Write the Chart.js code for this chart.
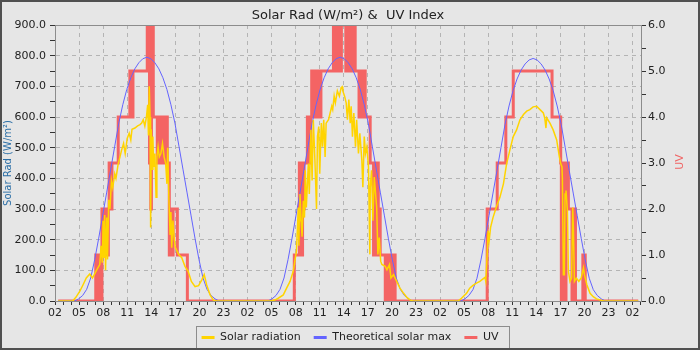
<!DOCTYPE html>
<html>
<head>
<meta charset="utf-8">
<title>Solar Rad &amp; UV Index</title>
<script src="https://cdn.jsdelivr.net/npm/chart.js@4.4.1/dist/chart.umd.min.js"></script>
<style>
  html, body { margin: 0; padding: 0; background: #e6e6e6; }
  #wrap { width: 700px; height: 350px; }
</style>
</head>
<body>
<div id="wrap"><canvas id="chart" width="700" height="350"></canvas></div>
<script>
// Hours are counted from 02:00 on the first day shown.
const firstHour = 2;
const lastHour = 73.05;
const chartTitle = 'Solar Rad (W/m\u00b2) &  UV Index';
const seriesNames = ['Solar radiation', 'Theoretical solar max', 'UV'];
const leftTitle = 'Solar Rad (W/m\u00b2)';
const rightTitle = 'UV';

// Solar radiation (W/m²), [hour, value]
const solarDay1 = [
  [0.4, 0], [2.2, 0], [2.6, 12], [3.08, 31], [3.5, 53], [3.9, 75], [4.33, 88], [4.67, 75], [5.17, 100], [5.58, 119],
  [5.75, 180], [5.9, 125], [6.0, 262], [6.1, 140], [6.2, 280], [6.3, 100], [6.45, 272], [6.55, 135], [6.7, 330], [6.85, 300],
  [7.04, 393], [7.2, 370], [7.45, 415], [7.6, 400], [7.88, 448], [8.1, 470], [8.3, 492], [8.55, 514], [8.75, 481], [9.0, 530],
  [9.25, 547], [9.45, 525], [9.6, 560], [9.96, 564], [10.3, 571], [10.6, 575], [10.8, 580], [11.0, 591], [11.2, 570], [11.4, 600],
  [11.55, 640], [11.65, 540], [11.75, 700], [11.85, 600], [11.92, 240], [12.0, 560], [12.1, 430], [12.2, 536], [12.3, 437],
  [12.45, 481], [12.6, 338], [12.7, 470], [12.85, 503], [13.0, 470], [13.2, 481], [13.4, 514], [13.6, 470], [13.8, 448],
  [13.95, 382], [14.05, 500], [14.2, 330], [14.35, 218], [14.45, 290], [14.55, 174], [14.7, 262], [14.85, 207], [15.0, 175],
  [15.4, 152], [15.8, 141], [16.2, 113], [16.6, 97], [17.0, 64], [17.46, 47], [17.9, 50], [18.3, 69], [18.6, 86], [18.9, 53],
  [19.33, 20], [19.75, 3], [20.0, 0]
];
const solarDay2 = [
  [26.8, 0], [27.4, 3], [27.83, 9], [28.46, 20], [28.87, 42], [29.3, 64], [29.7, 97], [29.9, 130], [30.1, 163],
  [30.33, 305], [30.4, 180], [30.45, 262], [30.54, 349], [30.7, 250], [30.8, 210], [30.96, 327], [31.1, 272], [31.2, 426],
  [31.33, 305], [31.58, 448], [31.7, 349], [31.9, 558], [32.05, 393], [32.2, 591], [32.4, 459], [32.6, 300], [32.72, 536],
  [32.88, 569], [33.0, 415], [33.2, 580], [33.35, 503], [33.5, 591], [33.67, 470], [33.8, 580], [34.1, 591], [34.3, 613],
  [34.5, 635], [34.62, 624], [34.8, 668], [34.95, 646], [35.2, 685], [35.45, 668], [35.67, 696], [35.8, 699], [35.88, 685],
  [36.1, 668], [36.3, 646], [36.45, 591], [36.63, 657], [36.8, 580], [36.92, 635], [37.08, 536], [37.25, 613], [37.46, 503],
  [37.6, 591], [37.83, 481], [38.0, 547], [38.25, 459], [38.38, 371], [38.55, 536], [38.7, 481], [38.875, 503], [39.08, 437],
  [39.25, 152], [39.3, 371], [39.46, 426], [39.63, 262], [39.8, 404], [40.1, 305], [40.25, 152], [40.42, 207], [40.6, 130],
  [40.75, 119], [41.17, 113], [41.38, 102], [41.7, 119], [41.88, 75], [42.2, 86], [42.6, 64], [43.0, 42], [43.46, 25],
  [43.9, 11], [44.3, 3], [44.6, 0]
];
const solarDay3 = [
  [50.25, 0], [50.67, 9], [51.3, 25], [51.7, 42], [52.1, 51], [52.54, 58], [52.96, 64], [53.4, 73], [53.6, 77], [53.7, 64],
  [53.875, 152], [54.0, 229], [54.12, 196], [54.3, 240], [54.6, 272], [55.0, 305], [55.46, 338], [55.9, 382], [56.3, 448],
  [56.7, 492], [57.125, 536], [57.54, 558], [57.96, 591], [58.4, 608], [58.8, 619], [59.2, 624], [59.6, 633], [60.04, 635],
  [60.46, 624], [60.875, 613], [61.05, 597], [61.2, 564], [61.3, 597], [61.7, 580], [62.1, 558], [62.54, 525], [62.875, 470],
  [63.04, 448], [63.2, 437], [63.25, 400], [63.375, 86], [63.5, 86], [63.58, 349], [63.7, 360], [63.875, 294], [64.0, 97],
  [64.2, 64], [64.4, 75], [64.54, 305], [64.62, 240], [64.75, 64], [65.0, 75], [65.3, 64], [65.6, 75], [65.875, 108],
  [66.0, 86], [66.3, 53], [66.7, 25], [67.1, 14], [67.5, 7], [68.4, 0], [72.7, 0]
];

// Theoretical solar max (W/m²), sampled every half hour from each day's start hour
const maxStep = 0.5;
const maxStart = [2.45, 26.55, 50.6];
const maxDay1 = [0, 7, 18, 38, 75, 135, 205, 280, 355, 430, 505, 580, 640, 690, 728, 757, 777, 790, 795,
  790, 777, 757, 728, 690, 640, 580, 505, 430, 355, 280, 205, 135, 75, 38, 18, 7, 0];
const maxDay2 = [0, 7, 18, 38, 75, 135, 205, 280, 355, 430, 505, 580, 640, 690, 728, 757, 777, 790, 795,
  790, 777, 757, 728, 690, 640, 580, 505, 430, 355, 280, 205, 135, 75, 38, 18, 7, 0];
const maxDay3 = [0, 7, 18, 37, 74, 134, 204, 278, 352, 426, 501, 576, 636, 686, 724, 753, 773, 786, 791,
  786, 773, 753, 724, 686, 636, 576, 501, 426, 352, 278, 204, 134, 74, 37, 18, 7, 0];

// UV index, [hour, value] - value holds until the next entry
const uvDay1 = [
  [0.4, 0], [5.08, 1], [5.2, 0], [5.3, 1], [5.42, 0], [5.5, 1], [5.6, 0],
  [5.85, 2], [5.95, 1], [6.05, 2], [6.15, 1], [6.25, 2], [6.35, 1], [6.45, 2], [6.55, 1], [6.65, 2],
  [6.75, 3], [6.85, 2], [6.95, 3], [7.05, 2], [7.1, 3],
  [7.88, 4],
  [9.33, 5], [9.43, 4], [9.53, 5], [9.63, 4], [9.72, 5],
  [11.5, 6], [11.6, 5], [11.7, 6], [11.78, 3], [11.86, 6], [11.94, 2], [12.02, 5], [12.1, 4], [12.18, 6], [12.25, 4],
  [12.75, 3], [12.82, 4], [12.95, 3], [13.05, 4], [13.15, 3], [13.25, 4],
  [13.58, 3], [13.68, 4], [13.78, 3], [13.88, 4], [14.0, 3],
  [14.25, 1], [14.35, 2], [14.45, 1], [14.55, 2], [14.65, 1], [14.72, 2],
  [15.25, 1], [16.5, 0]
];
const uvDay2 = [
  [29.83, 1], [30.46, 3], [30.56, 1], [30.66, 2], [30.76, 1], [30.86, 3], [30.96, 2], [31.05, 3],
  [31.46, 4], [31.56, 3], [31.66, 4], [31.76, 3], [31.86, 4],
  [32.0, 5], [32.1, 4], [32.2, 5], [32.45, 4], [32.55, 5], [32.8, 4], [32.9, 5], [33.05, 4], [33.15, 5],
  [34.71, 6], [34.8, 5], [34.9, 6], [35.0, 5], [35.1, 6], [35.2, 5], [35.3, 6], [35.4, 5], [35.5, 6], [35.6, 5], [35.7, 6],
  [36.25, 5], [36.35, 6], [36.45, 5], [36.55, 6], [36.65, 5], [36.75, 6], [36.85, 5], [36.95, 6], [37.05, 5], [37.15, 6],
  [37.25, 5], [37.35, 6], [37.42, 5], [37.9, 4], [37.98, 5], [38.3, 4], [38.38, 5],
  [38.67, 4], [39.29, 3],
  [39.71, 1], [39.8, 3], [39.9, 1], [40.0, 2], [40.1, 1], [40.2, 3], [40.3, 1], [40.4, 2],
  [40.54, 1],
  [41.17, 0], [41.27, 1], [41.37, 0], [41.47, 1], [41.57, 0], [41.67, 1], [41.77, 0], [41.87, 1], [41.97, 0], [42.07, 1],
  [42.25, 0], [42.35, 1], [42.4, 0]
];
const uvDay3 = [
  [53.875, 2], [55.125, 3], [56.2, 4], [57.125, 5], [61.96, 4], [63.04, 3],
  [63.12, 0], [63.2, 3], [63.28, 0], [63.36, 3], [63.44, 0], [63.52, 3], [63.6, 0], [63.7, 3],
  [64.0, 2], [64.45, 0], [64.55, 2], [64.65, 0], [64.75, 2], [64.88, 0],
  [65.8, 1], [65.9, 0], [66.0, 1], [66.1, 0], [72.7, 0]
];

const font = '"DejaVu Sans", sans-serif';
const gridColor = '#b4b4b4';
const colors = { solar: '#ffd400', max: '#6464ff', uv: '#f46464' };

const pairsToPoints = (pairs) => pairs.map(([x, y]) => ({ x, y }));
const sampledToPoints = (start, values) => values.map((y, i) => ({ x: start + i * maxStep, y }));

const solarPoints = pairsToPoints([...solarDay1, ...solarDay2, ...solarDay3]);
const maxPoints = [
  { x: 0.4, y: 0 },
  ...sampledToPoints(maxStart[0], maxDay1),
  ...sampledToPoints(maxStart[1], maxDay2),
  ...sampledToPoints(maxStart[2], maxDay3),
  { x: 72.7, y: 0 }
];
const uvPoints = pairsToPoints([...uvDay1, ...uvDay2, ...uvDay3]);

const pad2 = (n) => String(n).padStart(2, '0');

const decorations = {
  id: 'decorations',
  beforeDraw(chart) {
    const { ctx, width, height } = chart;
    ctx.save();
    ctx.fillStyle = '#e6e6e6';
    ctx.fillRect(0, 0, width, height);
    ctx.restore();
  },
  afterDatasetsDraw(chart) {
    const { ctx, chartArea: a } = chart;
    ctx.save();
    ctx.strokeStyle = '#8c8c8c';
    ctx.lineWidth = 1;
    ctx.beginPath();
    ctx.moveTo(a.left, Math.round(a.top) + 0.5);
    ctx.lineTo(a.right, Math.round(a.top) + 0.5);
    ctx.stroke();
    ctx.restore();
  },
  afterDraw(chart) {
    const { ctx, chartArea: a, width, height } = chart;
    ctx.save();
    // title
    ctx.font = '13px ' + font;
    ctx.fillStyle = '#222';
    ctx.textAlign = 'center';
    ctx.textBaseline = 'middle';
    ctx.fillText(chartTitle, (a.left + a.right) / 2, 16);

    // right axis title, reading upwards like the left one
    ctx.save();
    ctx.translate(680, (a.top + a.bottom) / 2 - 1);
    ctx.rotate(-Math.PI / 2);
    ctx.font = '11px ' + font;
    ctx.fillStyle = '#f06464';
    ctx.fillText(rightTitle, 0, 0);
    ctx.restore();

    // frame round the legend
    const boxes = chart.legend.legendHitBoxes;
    if (boxes.length) {
      const left = Math.min(...boxes.map((b) => b.left)) - 6;
      const right = Math.max(...boxes.map((b) => b.left + b.width)) + 10;
      const top = boxes[0].top - 6;
      const bottom = boxes[0].top + boxes[0].height + 5;
      ctx.strokeStyle = '#8c8c8c';
      ctx.lineWidth = 1;
      ctx.strokeRect(Math.round(left) + 0.5, Math.round(top) + 0.5, Math.round(right - left), Math.round(bottom - top));
    }

    // outer border
    ctx.strokeStyle = '#505050';
    ctx.lineWidth = 2;
    ctx.strokeRect(1, 1, width - 2, height - 2);
    ctx.restore();
  }
};

new Chart(document.getElementById('chart'), {
  type: 'line',
  data: {
    datasets: [
      { label: seriesNames[0], data: solarPoints, borderColor: colors.solar, borderWidth: 1.5, yAxisID: 'y' },
      { label: seriesNames[1], data: maxPoints, borderColor: colors.max, borderWidth: 1, yAxisID: 'y' },
      { label: seriesNames[2], data: uvPoints, borderColor: colors.uv, borderWidth: 3, stepped: 'before', yAxisID: 'y1' }
    ]
  },
  options: {
    responsive: false,
    animation: false,
    events: [],
    parsing: false,
    normalized: true,
    elements: { point: { radius: 0 }, line: { tension: 0, fill: false } },
    layout: { padding: { top: 25, left: 0, right: 0, bottom: 5 } },
    plugins: {
      title: { display: false },
      tooltip: { enabled: false },
      legend: {
        position: 'bottom',
        maxHeight: 26,
        labels: {
          boxWidth: 13,
          boxHeight: 3,
          padding: 13,
          color: '#222',
          font: { family: font, size: 11 },
          generateLabels: (chart) => chart.data.datasets.map((ds, i) => ({
            text: ds.label,
            fillStyle: ds.borderColor,
            strokeStyle: ds.borderColor,
            lineWidth: 0,
            hidden: false,
            datasetIndex: i,
            fontColor: '#222'
          }))
        }
      }
    },
    scales: {
      x: {
        type: 'linear',
        min: 0,
        max: lastHour,
        afterFit: (scale) => { scale.height = 18; },
        border: { display: true, color: '#8c8c8c', dash: [4, 4] },
        grid: {
          color: (c) => (c.tick && c.tick.value % 3 === 0 && c.tick.value !== 0 ? gridColor : 'rgba(0,0,0,0)'),
          tickColor: '#333',
          tickLength: 4
        },
        ticks: {
          stepSize: 1,
          autoSkip: false,
          maxRotation: 0,
          includeBounds: false,
          padding: 2,
          color: '#222',
          font: { family: font, size: 11 },
          callback: (v) => (v % 3 === 0 ? pad2((v + firstHour) % 24) : '')
        }
      },
      y: {
        position: 'left',
        min: 0,
        max: 900,
        afterFit: (scale) => { scale.width = 55; },
        border: { display: true, color: '#8c8c8c', dash: [4, 4] },
        grid: {
          color: (c) => (c.tick && c.tick.value % 100 === 0 && c.tick.value > 0 && c.tick.value < 900 ? gridColor : 'rgba(0,0,0,0)'),
          tickColor: '#333',
          tickLength: 5
        },
        ticks: {
          stepSize: 50,
          autoSkip: false,
          padding: 4,
          color: '#222',
          font: { family: font, size: 11 },
          callback: (v) => (v % 100 === 0 ? v.toFixed(1) : '')
        },
        title: {
          display: true,
          text: leftTitle,
          color: '#2a6ea6',
          font: { family: font, size: 10 },
          padding: { top: 2, bottom: 0 }
        }
      },
      y1: {
        position: 'right',
        min: 0,
        max: 6,
        afterFit: (scale) => { scale.width = 59; },
        border: { display: true, color: '#8c8c8c' },
        grid: { drawOnChartArea: false, color: '#333', tickColor: '#333', tickLength: 5 },
        ticks: {
          stepSize: 0.5,
          autoSkip: false,
          padding: 2,
          color: '#222',
          font: { family: font, size: 11 },
          callback: (v) => (Number.isInteger(v) ? v.toFixed(1) : '')
        },
        title: { display: false }
      }
    }
  },
  plugins: [decorations]
});
</script>
</body>
</html>
